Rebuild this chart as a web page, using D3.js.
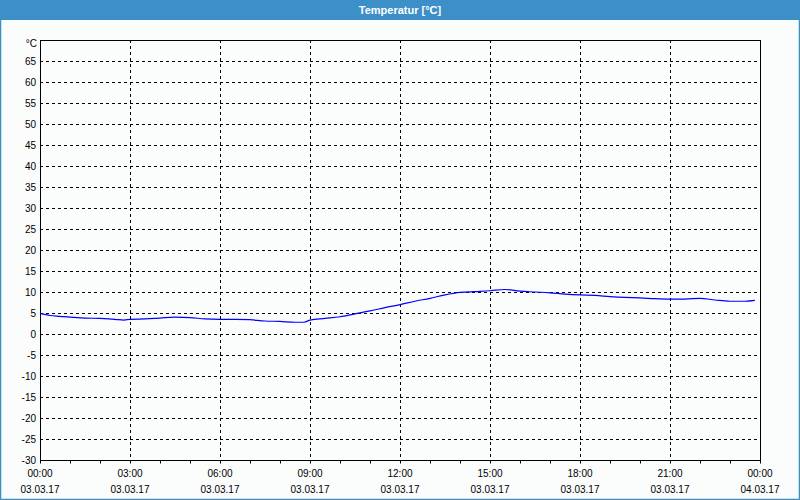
<!DOCTYPE html>
<html><head><meta charset="utf-8">
<script src="https://cdn.jsdelivr.net/npm/d3@7"></script>
<style>
html,body{margin:0;padding:0;background:#fbfdfc;}
svg{display:block;}
text{font-family:"Liberation Sans",Arial,sans-serif;}
</style></head>
<body>
<svg id="c" width="800" height="500"></svg>
<script>
const title = "Temperatur [°C]";
const unitLabel = "°C";
const hours = [0,0.33,0.67,1,1.5,2,2.5,2.8,3,3.5,4,4.5,5,5.5,6,6.5,7,7.5,8,8.5,8.8,9,9.5,10,10.5,11,11.5,12,12.5,13,13.5,14,14.5,15,15.5,16,16.5,17,17.5,18,18.5,19,19.5,20,20.5,21,21.5,22,22.5,23,23.5,23.83];
const temps = [4.9,4.4,4.2,4.0,3.8,3.7,3.5,3.3,3.5,3.6,3.8,4.0,3.9,3.6,3.5,3.5,3.4,3.1,3.0,2.8,2.8,3.3,3.7,4.1,4.8,5.5,6.3,7.0,7.8,8.5,9.3,9.9,10.1,10.3,10.6,10.2,10.0,9.8,9.5,9.3,9.2,8.9,8.7,8.6,8.4,8.3,8.3,8.5,8.1,7.8,7.8,8.0];
const yTicks = [-30,-25,-20,-15,-10,-5,0,5,10,15,20,25,30,35,40,45,50,55,60,65];
const xMajor = [0,3,6,9,12,15,18,21,24];
const timeLabels = ["00:00","03:00","06:00","09:00","12:00","15:00","18:00","21:00","00:00"];
const dateLabels = ["03.03.17","03.03.17","03.03.17","03.03.17","03.03.17","03.03.17","03.03.17","03.03.17","04.03.17"];

const W=800,H=500;
const svg=d3.select("#c");
const L=40,R=760,T=40,B=460;
const x=d3.scaleLinear().domain([0,24]).range([L,R]);
const y=d3.scaleLinear().domain([-30,70]).range([B,T]);

// frame
svg.append("rect").attr("x",0.5).attr("y",0.5).attr("width",W-1).attr("height",H-1)
  .attr("fill","#fbfdfc").attr("stroke","#3c8fc7").attr("stroke-width",1.5);
svg.append("rect").attr("x",0).attr("y",0).attr("width",W).attr("height",20).attr("fill","#3c8fc7");
svg.append("text").attr("x",W/2).attr("y",14).attr("text-anchor","middle")
  .attr("fill","#fff").attr("font-weight","bold").attr("font-size","11px").text(title);

// grid
const g=svg.append("g");
g.selectAll("line.h").data(yTicks.filter(v=>v>-30)).join("line")
  .attr("x1",L).attr("x2",R).attr("y1",d=>Math.round(y(d))+0.5).attr("y2",d=>Math.round(y(d))+0.5)
  .attr("stroke","#000").attr("stroke-dasharray","3,3").attr("stroke-width",1);
g.selectAll("line.v").data(xMajor.filter(v=>v>0&&v<24)).join("line")
  .attr("y1",T).attr("y2",B).attr("x1",d=>Math.round(x(d))+0.5).attr("x2",d=>Math.round(x(d))+0.5)
  .attr("stroke","#000").attr("stroke-dasharray","3,3").attr("stroke-width",1);

// y axis labels
const yAxis=d3.axisLeft(y).tickValues(yTicks).tickSize(0).tickPadding(4).tickFormat(d=>d);
const ya=svg.append("g").attr("transform",`translate(${L},0)`).call(yAxis);
ya.select(".domain").remove();
ya.selectAll("text").attr("font-size","10px").attr("fill","#000").attr("font-family","Liberation Sans, Arial, sans-serif");
svg.append("text").attr("x",L-3).attr("y",T+7).attr("text-anchor","end").attr("font-size","10px").attr("fill","#000").text(unitLabel);

// x axis minor ticks
const xAxis=d3.axisBottom(x).ticks(24).tickSize(3).tickFormat("");
const xa=svg.append("g").attr("transform",`translate(0,${B+0.5})`).call(xAxis);
xa.select(".domain").remove();
xa.selectAll("line").attr("stroke","#000");
// x labels
const xl=svg.append("g");
xMajor.forEach((h,i)=>{
  const t=xl.append("text").attr("x",x(h)).attr("text-anchor","middle").attr("font-size","10px").attr("fill","#000");
  t.append("tspan").attr("x",x(h)).attr("y",477).text(timeLabels[i]);
  t.append("tspan").attr("x",x(h)).attr("y",493).text(dateLabels[i]);
});

// plot frame
svg.append("rect").attr("x",L+0.5).attr("y",T+0.5).attr("width",R-L).attr("height",B-T)
  .attr("fill","none").attr("stroke","#000").attr("stroke-width",1);

// line
const line=d3.line().x((d,i)=>x(hours[i])).y(d=>y(d)).curve(d3.curveMonotoneX);
svg.append("path").datum(temps).attr("d",line).attr("fill","none").attr("stroke","#0000ff").attr("stroke-width",1.2);
</script>
</body></html>
